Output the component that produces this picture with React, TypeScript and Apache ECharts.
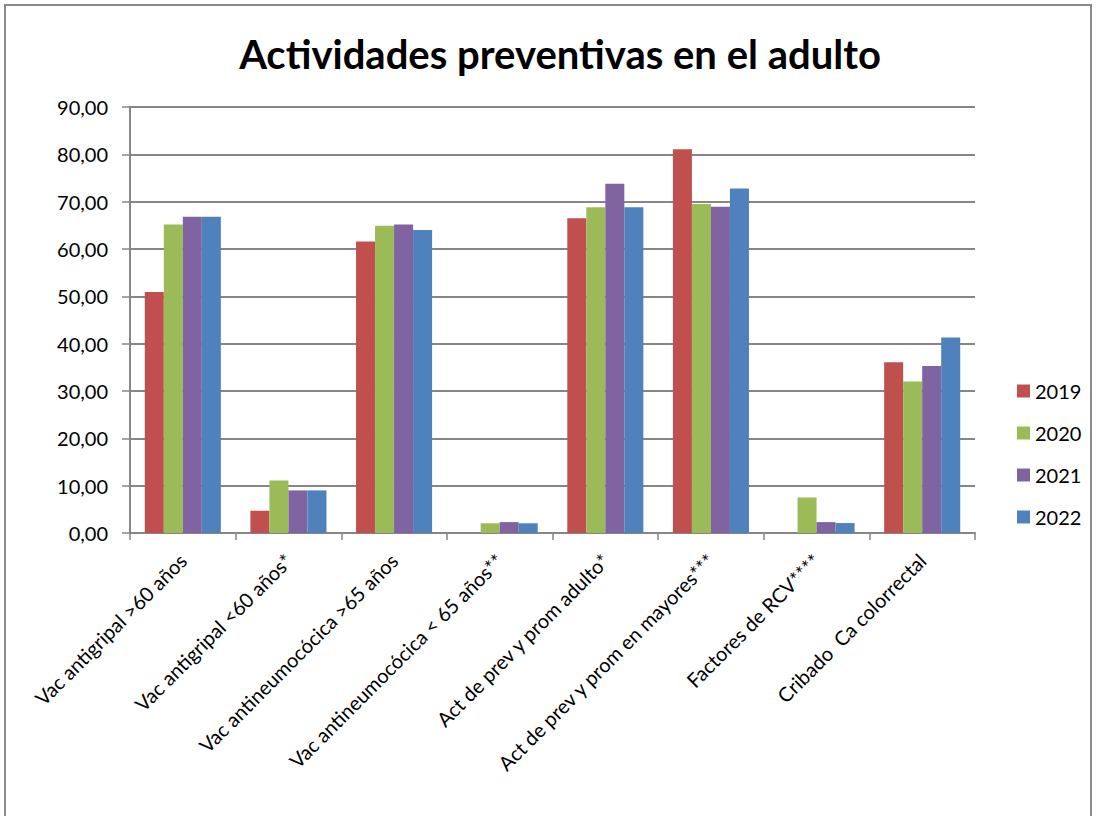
import React, { useEffect, useRef } from "react";
import * as echarts from "echarts";

const categories = [
  "Vac antigripal >60 años",
  "Vac antigripal <60 años*",
  "Vac antineumocócica >65 años",
  "Vac antineumocócica < 65 años**",
  "Act de prev y prom adulto*",
  "Act de prev y prom en mayores***",
  "Factores de RCV****",
  "Cribado  Ca colorrectal",
];
const seriesNames = ["2019", "2020", "2021", "2022"];
const v2019 = [50.9, 4.7, 61.6, 0, 66.5, 81.1, 0, 36.1];
const v2020 = [65.2, 11.1, 64.9, 2.05, 68.8, 69.5, 7.5, 32.0];
const v2021 = [66.8, 9.0, 65.2, 2.3, 73.8, 68.9, 2.3, 35.3];
const v2022 = [66.8, 9.0, 64.0, 2.05, 68.8, 72.8, 2.1, 41.3];
const colors = ["#C0504D", "#9BBB59", "#8064A2", "#4F81BD"];
const yTicks = { min: 0, max: 90, interval: 10 };

export default function App() {
  const ref = useRef<HTMLDivElement>(null);
  useEffect(() => {
    document.body.style.margin = "0";
    const chart = echarts.init(ref.current!, null, { renderer: "svg" });
    const data = [v2019, v2020, v2021, v2022];
    chart.setOption({
      animation: false,
      backgroundColor: "#ffffff",
      textStyle: { fontFamily: "Lato" },
      title: {
        text: "Actividades preventivas en el adulto",
        left: 555,
        top: 29,
        textAlign: "center",
        textStyle: { fontSize: 40, fontWeight: "bold", color: "#000", fontFamily: "Lato" },
      },
      graphic: [
        {
          type: "rect",
          shape: { x: 5, y: 5, width: 1086, height: 830 },
          style: { fill: "none", stroke: "#8a8a8a", lineWidth: 2 },
          silent: true,
        },
      ],
      legend: {
        orient: "vertical",
        left: 1012,
        top: 376,
        itemWidth: 13,
        itemHeight: 13,
        itemGap: 22,
        icon: "rect",
        textStyle: { fontSize: 20, color: "#000", fontFamily: "Lato" },
        data: seriesNames,
      },
      grid: { left: 130, right: 121, top: 107, bottom: 283, containLabel: false },
      xAxis: {
        type: "category",
        data: categories,
        axisLine: { lineStyle: { color: "#868686", width: 2 } },
        axisTick: { show: true, alignWithLabel: false, length: 7, lineStyle: { color: "#868686", width: 1.5 } },
        axisLabel: {
          rotate: 45,
          interval: 0,
          fontSize: 20,
          color: "#000",
          margin: 24,
          fontFamily: "Lato",
        },
      },
      yAxis: {
        type: "value",
        min: yTicks.min,
        max: yTicks.max,
        interval: yTicks.interval,
        axisLine: { show: true, lineStyle: { color: "#868686", width: 2 } },
        axisTick: { show: true, length: 8, lineStyle: { color: "#868686", width: 1.5 } },
        splitLine: { lineStyle: { color: "#868686", width: 2 } },
        axisLabel: {
          fontSize: 20,
          color: "#000",
          margin: 22,
          fontFamily: "Lato",
          formatter: (v: number) => v.toFixed(2).replace(".", ","),
        },
      },
      series: seriesNames.map((name, i) => ({
        name,
        type: "bar",
        data: data[i],
        barGap: "0%",
        barCategoryGap: "28%",
        itemStyle: { color: colors[i] },
      })),
    });
    return () => chart.dispose();
  }, []);
  return <div ref={ref} style={{ width: 1096, height: 816 }} />;
}
